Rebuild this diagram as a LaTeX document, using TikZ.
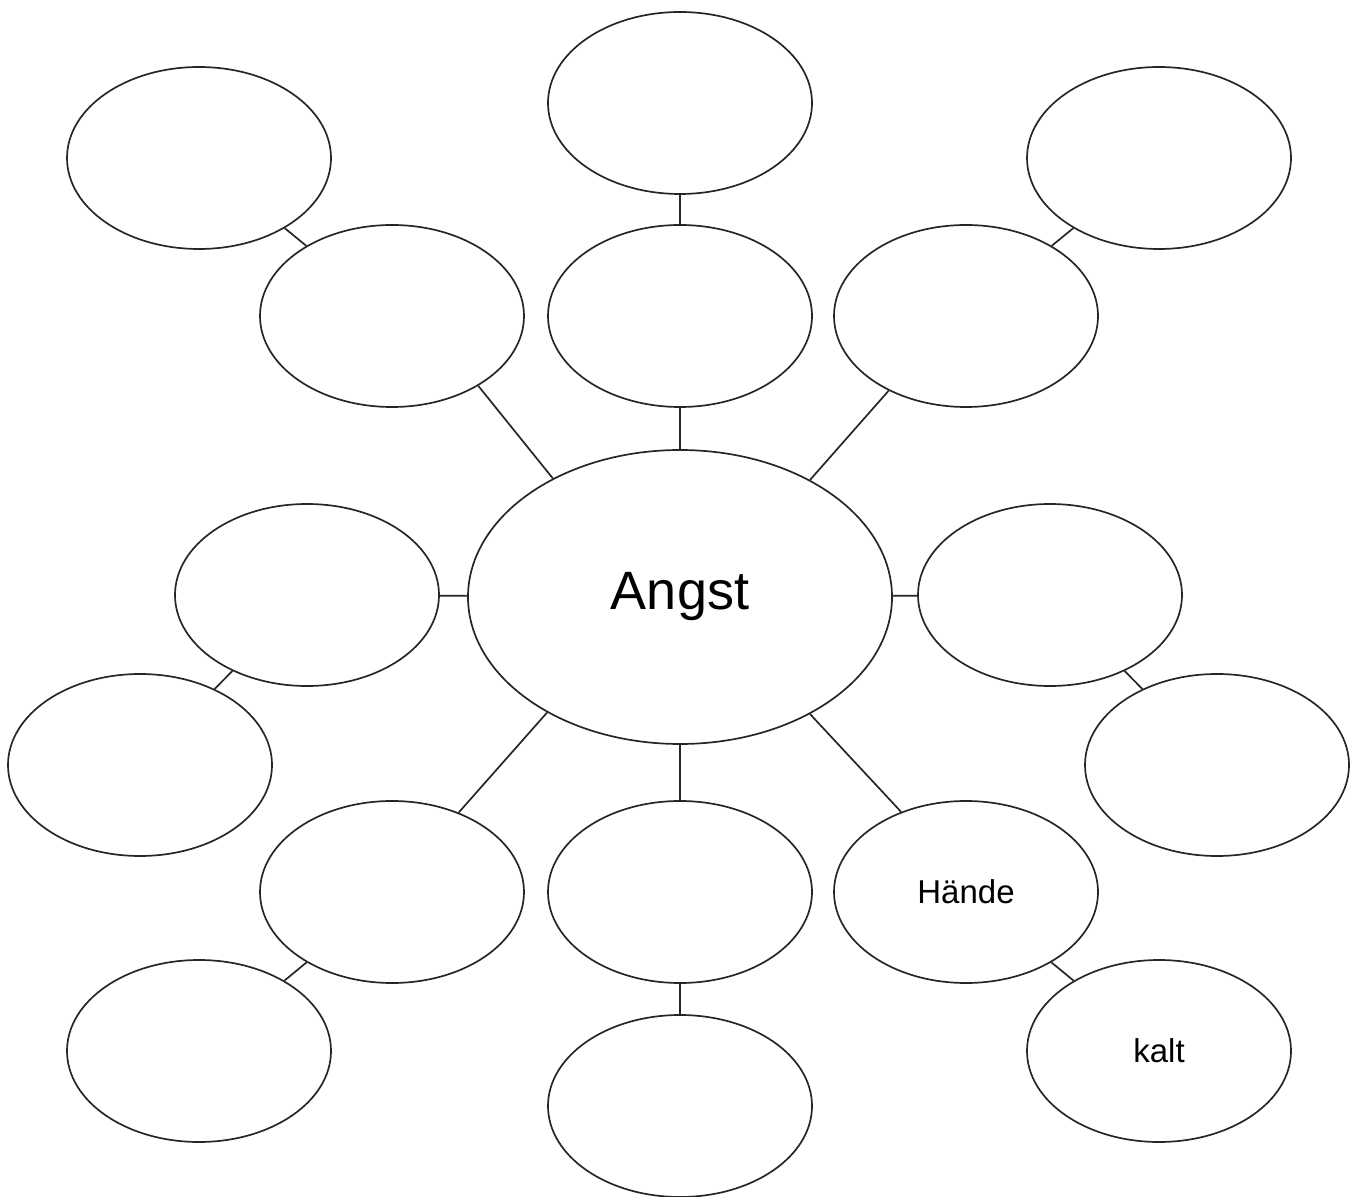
\documentclass[tikz,border=0pt]{standalone}
\usepackage{fontspec}
\setmainfont{Liberation Sans}
\usetikzlibrary{shapes.geometric}
\begin{document}
\begin{tikzpicture}[x=0.5pt,y=-0.5pt,
  bubble/.style={ellipse,draw=black!85,line width=0.85pt,minimum width=132pt,minimum height=91pt,inner sep=0pt},
  hub/.style={ellipse,draw=black!85,line width=0.85pt,minimum width=212pt,minimum height=147pt,inner sep=0pt},
  link/.style={draw=black!85,line width=0.85pt}]
\useasboundingbox (0,0) rectangle (1360,1197);
\node[hub] (c) at (680,597) {\fontsize{27}{27}\selectfont Angst};
\node[bubble] (tm1) at (680,316) {};
\node[bubble] (tm2) at (680,103) {};
\node[bubble] (tl1) at (392,316) {};
\node[bubble] (tl2) at (199,158) {};
\node[bubble] (tr1) at (966,316) {};
\node[bubble] (tr2) at (1159,158) {};
\node[bubble] (ml1) at (307,595) {};
\node[bubble] (ml2) at (140,765) {};
\node[bubble] (mr1) at (1050,595) {};
\node[bubble] (mr2) at (1217,765) {};
\node[bubble] (bl1) at (392,892) {};
\node[bubble] (bl2) at (199,1051) {};
\node[bubble] (bm1) at (680,892) {};
\node[bubble] (bm2) at (680,1106) {};
\node[bubble] (br1) at (966,892) {\fontsize{16.5}{16.5}\selectfont H\"ande};
\node[bubble] (br2) at (1159,1051) {\fontsize{16.5}{16.5}\selectfont kalt};
\draw[link] (c.north) -- (tm1.south);
\draw[link] (tm1) -- (tm2);
\draw[link] (c.137) -- (tl1.-39);
\draw[link] (tl1) -- (tl2);
\draw[link] (c.42) -- (tr1.-136.5);
\draw[link] (tr1) -- (tr2);
\draw[link] (c) -- (ml1);
\draw[link] (ml1) -- (ml2);
\draw[link] (c) -- (mr1);
\draw[link] (mr1) -- (mr2);
\draw[link] (c.221) -- (bl1.50);
\draw[link] (bl1) -- (bl2);
\draw[link] (c) -- (bm1);
\draw[link] (bm1) -- (bm2);
\draw[link] (c.-42) -- (br1.129.5);
\draw[link] (br1) -- (br2);
\end{tikzpicture}
\end{document}
